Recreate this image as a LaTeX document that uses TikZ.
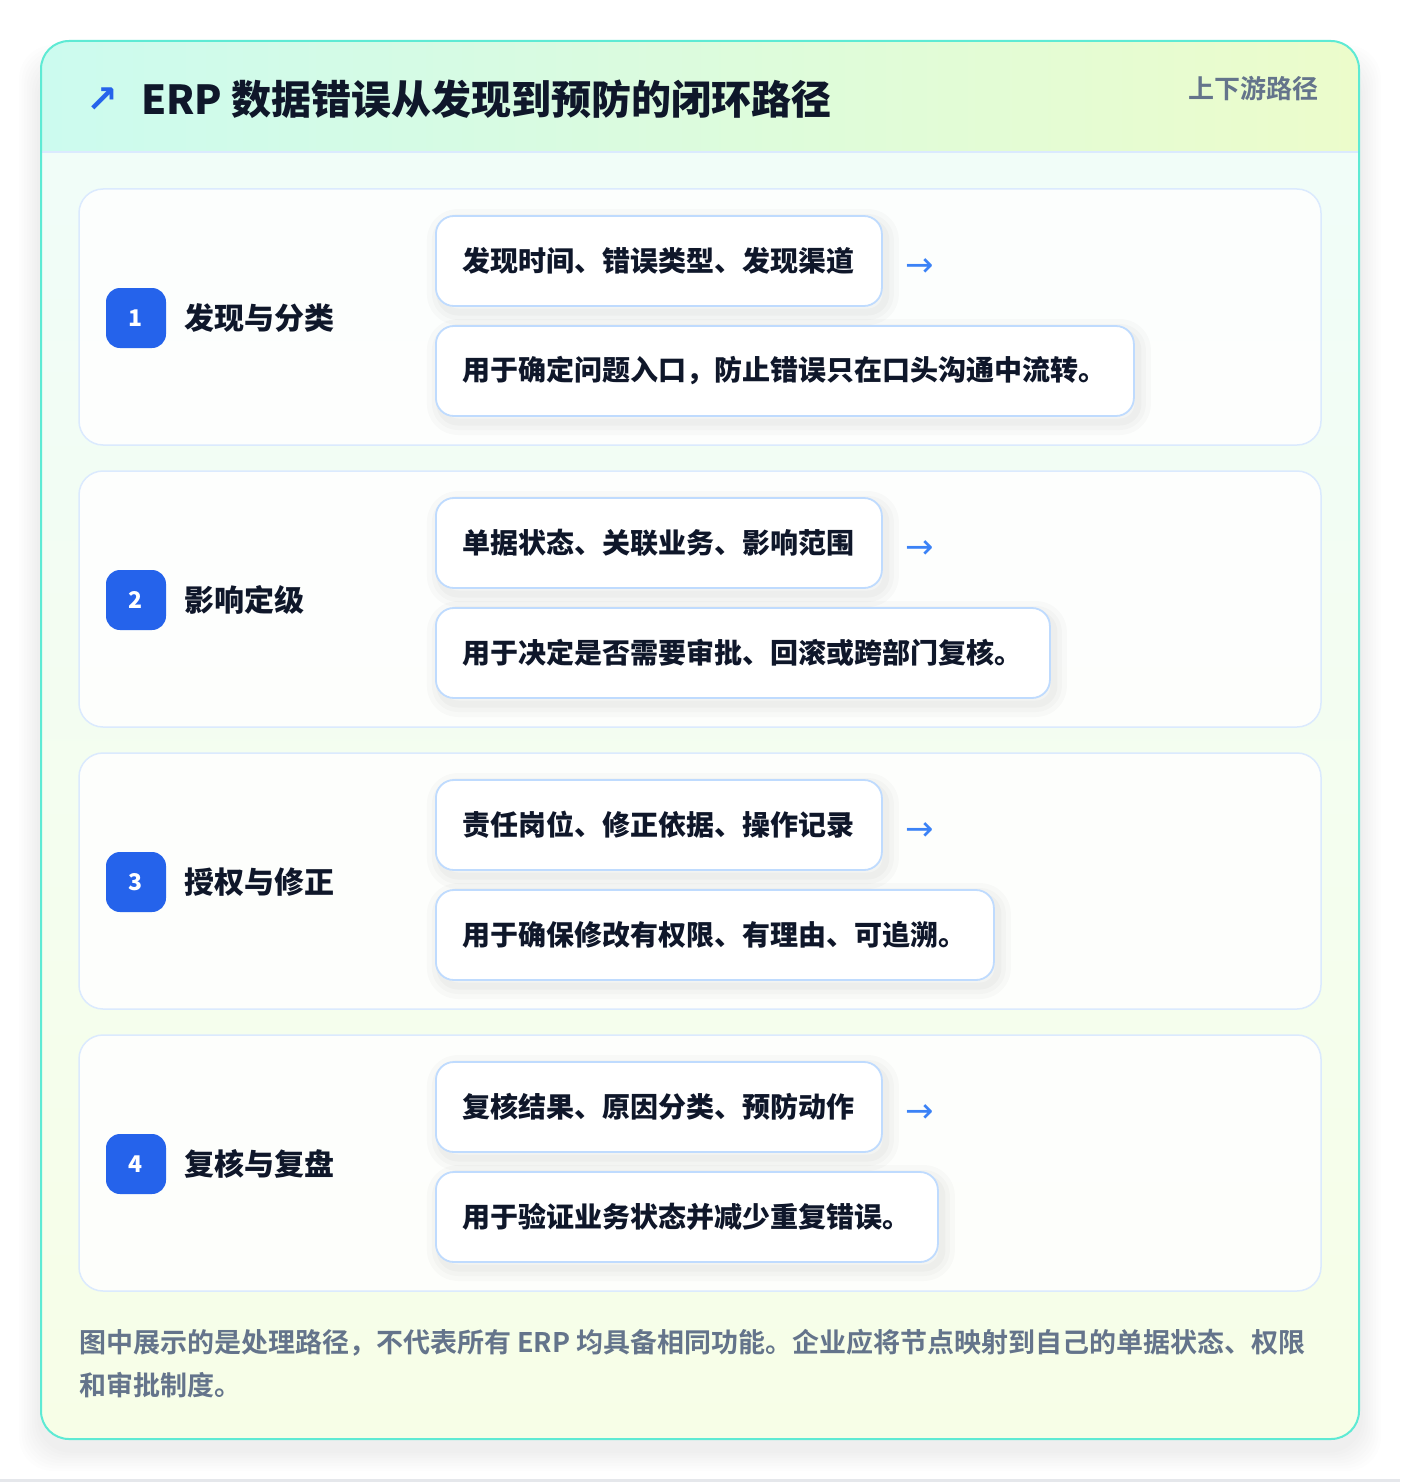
\documentclass[tikz,border=0pt]{standalone}
\usepackage{fontspec}
\setmainfont{Noto Sans CJK SC}[BoldFont={Noto Sans CJK SC Bold}]
\newfontfamily\heavyfont{Noto Sans CJK SC Black}
\newfontfamily\symfont{DejaVu Sans}
\definecolor{ink}{HTML}{0F172A}
\definecolor{slate}{HTML}{64748B}
\definecolor{blueA}{HTML}{2563EB}
\definecolor{blueB}{HTML}{3B82F6}
\definecolor{blue100}{HTML}{DBEAFE}
\definecolor{blue200}{HTML}{BFDBFE}
\definecolor{tealB}{HTML}{5EEAD4}
\definecolor{headL}{HTML}{CCFBEF}
\definecolor{headR}{HTML}{ECFCCB}
\definecolor{bodyT}{HTML}{F0FDFA}
\definecolor{bodyB}{HTML}{F7FEE7}
\definecolor{pagegray}{HTML}{E5E7EB}
\tikzset{
  plain/.style={inner sep=0pt, outer sep=0pt},
  titletxt/.style={plain, anchor=west, text=ink, font=\heavyfont\fontsize{40}{44}\selectfont},
  tagtxt/.style={plain, anchor=east, text=slate, font=\bfseries\fontsize{26}{30}\selectfont},
  icontxt/.style={plain, text=blueA, font=\symfont\bfseries\fontsize{38}{38}\selectfont},
  stepcard/.style={plain, draw=blue100, line width=1.5pt, fill=white, fill opacity=0.85, draw opacity=1,
    rounded corners=24pt, minimum width=1242pt, minimum height=256pt},
  badge/.style={plain, fill=blueA, rounded corners=14pt, minimum width=60pt, minimum height=60pt,
    text=white, font=\heavyfont\fontsize{23}{23}\selectfont},
  steptitle/.style={plain, anchor=west, text=ink, font=\heavyfont\fontsize{30}{34}\selectfont},
  detail/.style={anchor=west, draw=blue200, line width=1.8pt, fill=white, rounded corners=18pt,
    minimum height=90pt, inner xsep=27pt, inner ysep=0pt, text=ink,
    font=\heavyfont\fontsize{28}{34}\selectfont,
    preaction={fill=none, draw=black, draw opacity=0.018, line width=26pt, line join=round,
      transform canvas={xshift=4pt, yshift=-6pt}},
    preaction={fill=none, draw=black, draw opacity=0.02, line width=16pt, line join=round,
      transform canvas={xshift=4pt, yshift=-6pt}},
    preaction={fill=none, draw=black, draw opacity=0.025, line width=7pt, line join=round,
      transform canvas={xshift=4pt, yshift=-6pt}}},
  arrowtxt/.style={plain, text=blueB, font=\symfont\fontsize{34}{34}\selectfont},
  foottxt/.style={plain, anchor=west, text=slate, font=\bfseries\fontsize{27}{32}\selectfont},
  cardshadow/.style={fill=black, fill opacity=#1, rounded corners=34pt},
}
\begin{document}
\begin{tikzpicture}[x=1pt,y=-1pt]
\useasboundingbox (0,0) rectangle (1400,1482);
\fill[white] (0,0) rectangle (1400,1482);
\fill[pagegray] (0,1479) rectangle (1400,1482);
% outer card soft shadow
\foreach \k in {0,...,7}{
  \fill[cardshadow=0.009] (41-22+\k*2.6,41-8+\k*2.6+12) rectangle (1359+22-\k*2.6,1439+26-\k*2.6+6);
}
% outer card
\begin{scope}
  \clip[rounded corners=28pt] (41,41) rectangle (1359,1439);
  \shade[top color=bodyT, bottom color=bodyB] (41,41) rectangle (1359,1439);
  \shade[left color=headL, right color=headR] (41,41) rectangle (1359,152);
\end{scope}
\draw[blue100, line width=1.5pt] (41,152) -- (1359,152);
\draw[tealB, line width=2pt, rounded corners=28pt] (41,41) rectangle (1359,1439);
% header
\node[icontxt] (icon) at (102,100) {↗};
\node[titletxt] (title) at (141,99) {ERP 数据错误从发现到预防的闭环路径};
\node[tagtxt] (tag) at (1318,89) {上下游路径};
% steps
\foreach \i/\t/\a/\b in {
  1/发现与分类/发现时间、错误类型、发现渠道/用于确定问题入口，防止错误只在口头沟通中流转。,
  2/影响定级/单据状态、关联业务、影响范围/用于决定是否需要审批、回滚或跨部门复核。,
  3/授权与修正/责任岗位、修正依据、操作记录/用于确保修改有权限、有理由、可追溯。,
  4/复核与复盘/复核结果、原因分类、预防动作/用于验证业务状态并减少重复错误。}{
  \pgfmathsetmacro\top{189+282*(\i-1)}
  \node[stepcard] (card\i) at (700,\top+128) {};
  \node[badge] (badge\i) at (136,\top+129) {\i};
  \node[steptitle] (st\i) at (184,\top+129) {\t};
  \node[detail] (da\i) at (435,\top+72) {\a};
  \node[detail] (db\i) at (435,\top+182) {\b};
  \node[arrowtxt] (ar\i) at (920,\top+79) {→};
}
% footer
\node[foottxt] (f1) at (79,1343) {图中展示的是处理路径，不代表所有 ERP 均具备相同功能。企业应将节点映射到自己的单据状态、权限};
\node[foottxt] (f2) at (79,1385) {和审批制度。};
\end{tikzpicture}
\end{document}
